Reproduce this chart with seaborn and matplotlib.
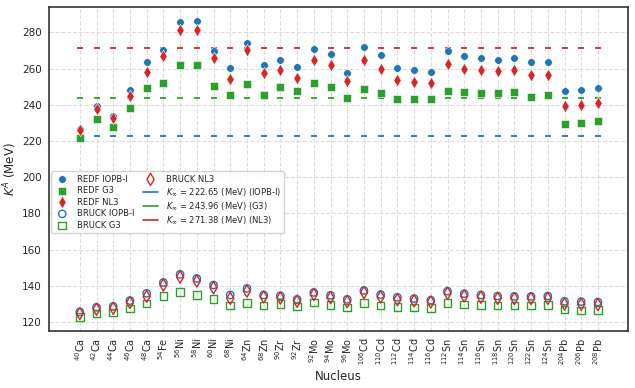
import numpy as np
import pandas as pd
import seaborn as sns
import matplotlib.pyplot as plt
from matplotlib.lines import Line2D

# Nuclei on the x axis
nuclei = [r"$^{40}$Ca", r"$^{42}$Ca", r"$^{44}$Ca", r"$^{46}$Ca", r"$^{48}$Ca",
          r"$^{54}$Fe", r"$^{56}$Ni", r"$^{58}$Ni", r"$^{60}$Ni", r"$^{68}$Ni",
          r"$^{64}$Zn", r"$^{68}$Zn", r"$^{90}$Zr", r"$^{92}$Zr", r"$^{92}$Mo",
          r"$^{94}$Mo", r"$^{96}$Mo", r"$^{106}$Cd", r"$^{110}$Cd", r"$^{112}$Cd",
          r"$^{114}$Cd", r"$^{116}$Cd", r"$^{112}$Sn", r"$^{114}$Sn", r"$^{116}$Sn",
          r"$^{118}$Sn", r"$^{120}$Sn", r"$^{122}$Sn", r"$^{124}$Sn", r"$^{204}$Pb",
          r"$^{206}$Pb", r"$^{208}$Pb"]

# REDF results
redf_iopb = [226.6, 239.1, 233.9, 247.9, 263.6, 270.3, 285.9, 286.1, 269.7, 260.1,
             274.1, 262.0, 264.5, 260.7, 271.0, 268.1, 257.6, 271.9, 267.3, 260.1,
             259.0, 258.3, 269.5, 266.7, 265.6, 264.9, 265.6, 263.6, 263.6, 247.4,
             248.1, 249.0]
redf_g3 = [221.6, 231.9, 227.9, 238.4, 249.4, 252.0, 262.0, 262.0, 250.5, 245.2,
           251.5, 245.4, 249.8, 247.6, 252.0, 250.0, 243.9, 248.9, 246.7, 243.3,
           243.0, 243.0, 247.8, 246.8, 246.7, 246.7, 246.8, 244.3, 245.6, 229.3,
           229.7, 231.0]
redf_nl3 = [225.8, 237.6, 232.5, 245.0, 257.9, 266.7, 281.1, 281.1, 265.8, 254.4,
            270.1, 257.5, 259.2, 254.6, 264.9, 261.8, 253.0, 264.7, 259.8, 253.7,
            252.6, 252.2, 262.7, 259.9, 259.0, 258.4, 259.2, 256.6, 256.4, 239.1,
            239.8, 240.7]

# Brueckner results
bruck_iopb = [125.5, 128.1, 128.6, 131.8, 135.8, 141.8, 146.3, 144.0, 140.4, 134.9,
              138.5, 134.9, 134.5, 132.5, 136.3, 134.7, 132.5, 137.4, 135.1, 133.6,
              132.9, 132.0, 137.0, 135.6, 134.9, 134.3, 134.1, 134.1, 134.3, 131.4,
              131.2, 131.0]
bruck_g3 = [122.8, 124.6, 125.1, 127.4, 130.1, 134.3, 136.5, 134.9, 132.7, 129.0,
            130.5, 129.0, 129.9, 128.6, 130.7, 129.2, 127.9, 130.3, 129.0, 128.3,
            127.9, 127.8, 130.5, 129.7, 129.4, 129.0, 129.0, 129.0, 129.2, 126.8,
            126.4, 126.6]
bruck_nl3 = [124.6, 127.0, 127.5, 130.7, 134.1, 140.4, 144.8, 142.6, 138.9, 133.0,
             137.0, 133.8, 133.2, 131.4, 135.2, 133.4, 131.2, 136.2, 133.8, 132.3,
             131.6, 131.0, 135.8, 134.3, 133.6, 133.0, 132.9, 132.9, 133.0, 129.9,
             129.7, 129.6]

# Nuclear matter incompressibility
k_inf = [222.65, 243.96, 271.38]
k_names = ["IOPB-I", "G3", "NL3"]

blue, green, red = "#1f77b4", "#2ca02c", "#d62728"

sns.set_style("whitegrid", {"grid.linestyle": "--", "grid.color": "#dddddd"})
fig, ax = plt.subplots(figsize=(6.35, 3.88), dpi=100)

# infinite matter lines drawn as short dashes at each nucleus
for k, c in zip(k_inf, [blue, green, red]):
    ax.plot(nuclei, [k] * len(nuclei), ls="none", marker="_", ms=5, mew=1.3,
            color=c, zorder=1)

sns.scatterplot(x=nuclei, y=redf_iopb, ax=ax, marker="o", s=30, color=blue,
                edgecolor="white", linewidth=0.4, zorder=3)
sns.scatterplot(x=nuclei, y=redf_g3, ax=ax, marker="s", s=32, color=green,
                edgecolor="white", linewidth=0.4, zorder=3)
sns.scatterplot(x=nuclei, y=redf_nl3, ax=ax, marker="d", s=40, color=red,
                edgecolor="white", linewidth=0.4, zorder=3)
sns.scatterplot(x=nuclei, y=bruck_iopb, ax=ax, marker="o", s=28,
                facecolor="none", edgecolor=blue, linewidth=1.0, zorder=3)
sns.scatterplot(x=nuclei, y=bruck_g3, ax=ax, marker="s", s=30,
                facecolor="none", edgecolor=green, linewidth=1.0, zorder=3)
sns.scatterplot(x=nuclei, y=bruck_nl3, ax=ax, marker="d", s=38,
                facecolor="none", edgecolor=red, linewidth=1.0, zorder=3)

labels = ["REDF IOPB-I", "REDF G3", "REDF NL3", "BRUCK IOPB-I", "BRUCK G3", "BRUCK NL3"]
handles = list(ax.collections[:6])
for k, n, c in zip(k_inf, k_names, [blue, green, red]):
    handles.append(Line2D([], [], color=c, lw=1.2))
    labels.append(r"$K_\infty$ = %.2f (MeV) (%s)" % (k, n))

ax.legend(handles, labels, ncol=2, fontsize=6, loc="lower left",
          bbox_to_anchor=(0.0, 0.295), borderaxespad=0.3, labelspacing=0.3,
          handlelength=1.8, handletextpad=0.9, columnspacing=1.0,
          borderpad=0.4, frameon=True, framealpha=0.9)

ax.set_xlim(-1.85, 32.8)
ax.set_ylim(115, 294)
ax.set_yticks(np.arange(120, 281, 20))
ax.tick_params(axis="x", labelrotation=90, labelsize=7, length=3, pad=2, color="#333333")
ax.tick_params(axis="y", labelsize=7.5, length=3, pad=2, color="#333333")
ax.set_xlabel("Nucleus", fontsize=8.5, labelpad=3)
ax.set_ylabel(r"$K^A$ (MeV)", fontsize=8.5, labelpad=2)
for sp in ax.spines.values():
    sp.set_color("#333333")
    sp.set_linewidth(1.2)

fig.subplots_adjust(left=0.077, right=0.989, top=0.982, bottom=0.147)
fig.savefig("out.png", dpi=100)
